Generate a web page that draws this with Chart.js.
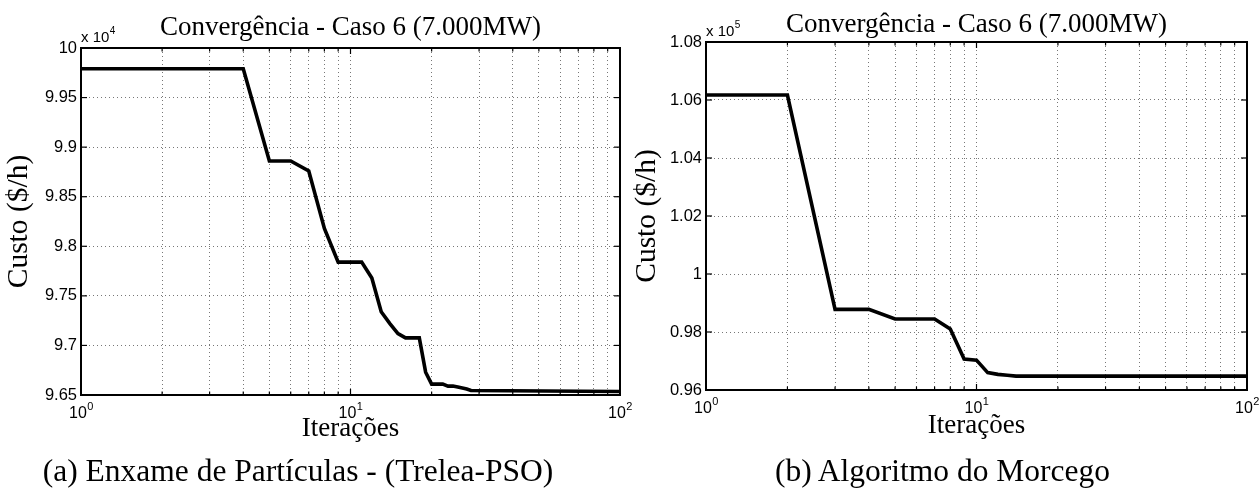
<!DOCTYPE html>
<html><head><meta charset="utf-8">
<script src="https://cdn.jsdelivr.net/npm/chart.js@4"></script>
<style>
html,body{margin:0;padding:0;background:#fff;}
#wrap{position:relative;width:1259px;height:488px;overflow:hidden;background:#fff;}
.box{position:absolute;top:0;height:488px;}
.t{position:absolute;font-family:"Liberation Serif",serif;color:#000;line-height:1;white-space:nowrap;text-align:center;width:700px;}
</style></head><body>
<div id="wrap">
  <div class="box" style="left:630px;width:629px"><canvas id="c2" width="629" height="488"></canvas></div>
  <div class="box" style="left:0;width:645px"><canvas id="c1" width="645" height="488"></canvas></div>
  <div class="t" style="left:0.5px;top:13.4px;font-size:27px">Convergência - Caso 6 (7.000MW)</div>
  <div class="t" style="left:626.5px;top:10.1px;font-size:27px">Convergência - Caso 6 (7.000MW)</div>
  <div class="t" style="left:-52px;top:455.3px;font-size:31.5px">(a) Enxame de Partículas - (Trelea-PSO)</div>
  <div class="t" style="left:592.5px;top:455.3px;font-size:31.5px">(b) Algoritmo do Morcego</div>
</div>
<script>
// ---- data ----
const psoIter = [1, 4, 5, 6, 7, 8, 9, 11, 12, 13, 14, 15, 16, 18, 19, 20, 22, 23, 24, 25, 26, 27, 28, 100];
const psoCost = [99790, 99790, 98860, 98860, 98760, 98180, 97840, 97840, 97680, 97340, 97220, 97120, 97076, 97076, 96730, 96610, 96610, 96590, 96590, 96580, 96570, 96560, 96545, 96535];
const batIter = [1, 2, 3, 4, 5, 7, 8, 9, 10, 11, 12, 13, 14, 100];
const batCost = [106170, 106170, 98780, 98780, 98450, 98450, 98100, 97070, 97030, 96600, 96540, 96510, 96480, 96480];
const xGridValues = [1, 2, 3, 4, 5, 6, 7, 8, 9, 10, 20, 30, 40, 50, 60, 70, 80, 90, 100];
const xMajorValues = [1, 10, 100];
const xMajorBase = ['10', '10', '10'];
const xMajorExp = ['0', '1', '2'];
const xTitle = 'Iterações';
const yTitle = 'Custo ($/h)';

Chart.defaults.font.family = '"Liberation Sans", Arial, sans-serif';

const matlabAxes = {
  id: 'matlabAxes',
  afterDraw(chart, args, o) {
    const {ctx, chartArea: a, scales: {x, y}} = chart;
    ctx.save();
    ctx.strokeStyle = '#000';
    ctx.lineWidth = 1.2;
    const seg = (x1, y1, x2, y2) => { ctx.beginPath(); ctx.moveTo(x1, y1); ctx.lineTo(x2, y2); ctx.stroke(); };
    y.ticks.forEach(t => {
      const py = y.getPixelForValue(t.value);
      seg(a.left, py, a.left + 6, py);
      seg(a.right - 6, py, a.right, py);
    });
    x.ticks.forEach(t => {
      const px = x.getPixelForValue(t.value);
      const L = xMajorValues.includes(t.value) ? 6 : 3.5;
      seg(px, a.bottom, px, a.bottom - L);
      seg(px, a.top, px, a.top + L);
    });
    ctx.lineWidth = 2;
    ctx.strokeRect(a.left, a.top, a.right - a.left, a.bottom - a.top);
    // x tick labels 10^n
    ctx.fillStyle = '#000';
    ctx.textBaseline = 'alphabetic';
    ctx.textAlign = 'left';
    const bFont = '16px "Liberation Sans", Arial, sans-serif';
    const eFont = '11px "Liberation Sans", Arial, sans-serif';
    const by = a.bottom + 23;
    xMajorValues.forEach((v, i) => {
      const px = x.getPixelForValue(v);
      ctx.font = bFont; const wb = ctx.measureText(xMajorBase[i]).width;
      ctx.font = eFont; const we = ctx.measureText(xMajorExp[i]).width;
      const x0 = px - (wb + we) / 2;
      ctx.font = bFont; ctx.fillText(xMajorBase[i], x0, by);
      ctx.font = eFont; ctx.fillText(xMajorExp[i], x0 + wb + 0.5, by - 8);
    });
    // multiplier label  x 10^k
    const my = a.top - 6;
    ctx.font = '15px "Liberation Sans", Arial, sans-serif';
    ctx.fillText('x 10', a.left, my);
    const wm = ctx.measureText('x 10').width;
    ctx.font = '10px "Liberation Sans", Arial, sans-serif';
    ctx.fillText(String(o.exp), a.left + wm + 0.5, my - 8);
    ctx.restore();
  }
};

function makeChart(id, iters, costs, cfg) {
  return new Chart(document.getElementById(id), {
    type: 'line',
    data: {
      datasets: [{
        data: iters.map((v, i) => ({x: v, y: costs[i]})),
        borderColor: '#000',
        borderWidth: 3.6,
        pointRadius: 0,
        tension: 0,
        fill: false,
        borderJoinStyle: 'miter'
      }]
    },
    options: {
      responsive: false,
      animation: false,
      events: [],
      layout: {padding: cfg.pad},
      plugins: {legend: {display: false}, tooltip: {enabled: false}, matlabAxes: {exp: cfg.exp}},
      scales: {
        x: {
          type: 'logarithmic', min: 1, max: 100,
          ticks: {display: false},
          afterBuildTicks: s => { s.ticks = xGridValues.map(v => ({value: v})); },
          grid: {color: '#777', lineWidth: 1, drawTicks: false},
          border: {display: false, dash: [1, 3]},
          title: {display: true, text: xTitle, color: '#000',
                  font: {family: '"Liberation Serif", serif', size: 27},
                  padding: {top: 0, bottom: cfg.xTitlePad}},
          afterFit: s => { s.height = 60; }
        },
        y: {
          min: cfg.yMin, max: cfg.yMax,
          ticks: {stepSize: cfg.yStep, color: '#000', padding: 4,
                  font: {size: 16.5},
                  callback: v => String(+(v / cfg.div).toFixed(2))},
          grid: {color: '#777', lineWidth: 1, drawTicks: false},
          border: {display: false, dash: [1, 3]},
          title: {display: true, text: yTitle, color: '#000',
                  font: {family: '"Liberation Serif", serif', size: 29.5},
                  padding: {top: cfg.yTitlePad, bottom: 0}},
          afterFit: s => { s.width = cfg.yWidth; }
        }
      }
    },
    plugins: [matlabAxes]
  });
}

makeChart('c1', psoIter, psoCost, {
  pad: {left: 0, right: 25, top: 48, bottom: 33},
  yMin: 96500, yMax: 100000, yStep: 500, div: 1e4, exp: 4,
  yWidth: 81, yTitlePad: 2, xTitlePad: 10
});
makeChart('c2', batIter, batCost, {
  pad: {left: 0, right: 12, top: 42, bottom: 38},
  yMin: 96000, yMax: 108000, yStep: 2000, div: 1e5, exp: 5,
  yWidth: 76, yTitlePad: 0, xTitlePad: 8
});
</script>
</body></html>
